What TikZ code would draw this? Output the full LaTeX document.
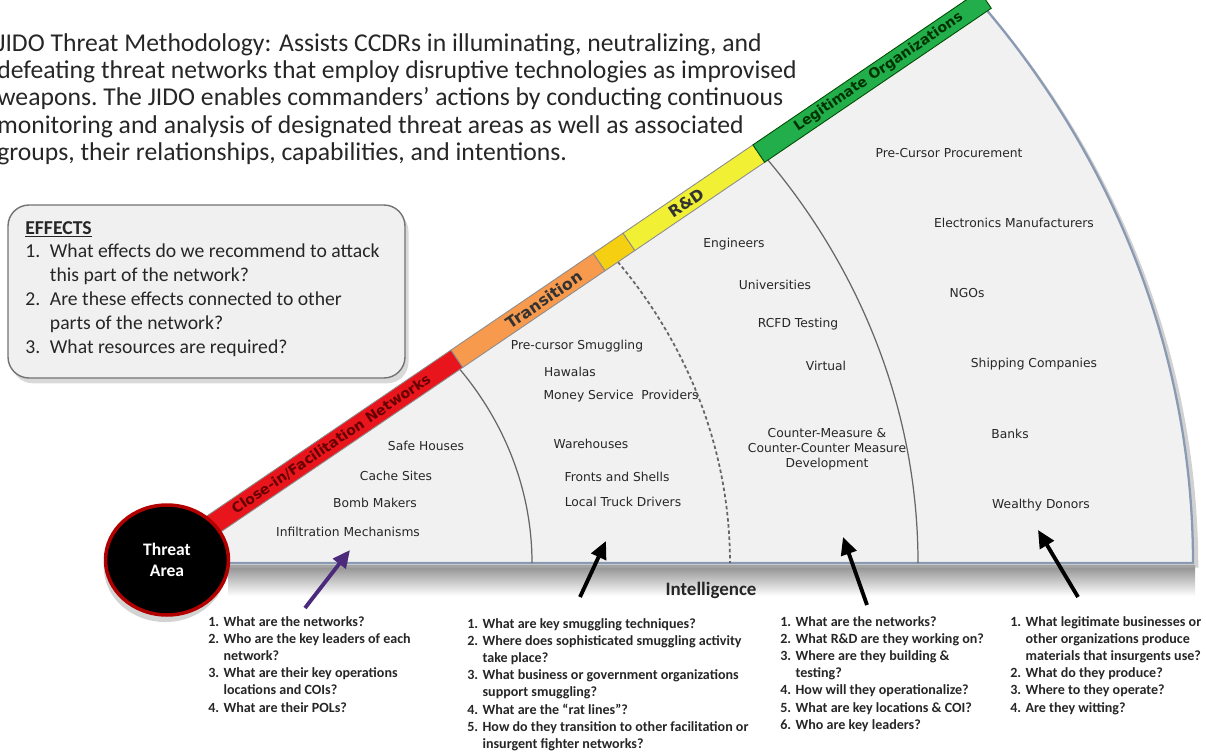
\documentclass[tikz,border=0pt]{standalone}
\usepackage{fontspec}
\setmainfont{Carlito}
\newfontfamily\comicfont{DejaVu Sans}
\usetikzlibrary{arrows.meta,shapes.geometric,shadows}

\definecolor{barred}{HTML}{E8161C}
\definecolor{barorange}{HTML}{F79A4E}
\definecolor{bargold}{HTML}{F4CF12}
\definecolor{baryellow}{HTML}{F2F034}
\definecolor{bargreen}{HTML}{22AE4A}
\definecolor{fanfill}{HTML}{F1F1F1}
\definecolor{fanedge}{HTML}{8A9AB2}
\definecolor{arrowpurple}{HTML}{4B2A7B}

\begin{document}
\begin{tikzpicture}[x=0.02cm, y=0.02cm,
                    item node/.style={font=\comicfont\fontsize{7}{8.6}\selectfont, text=black!85, inner sep=0pt},
                    list node/.style={anchor=north west, inner sep=0pt, text=black!85,
                                      font=\bfseries\fontsize{8}{9.75}\selectfont},
                    bar label/.style={font=\comicfont\bfseries\fontsize{8}{8}\selectfont, rotate=34.2, inner sep=0pt},
                    bar seg/.style={draw=black!45, line width=0.5pt},
                    q arrow/.style={line width=2.2pt, -{Triangle[length=10pt, width=9pt]}},
                    threat node/.style={ellipse, fill=black, draw=red!70!black, line width=2pt,
                                        minimum width=2.46cm, minimum height=2.2cm, text=white, align=center,
                                        font=\bfseries\fontsize{10}{12}\selectfont,
                                        drop shadow={shadow xshift=-1pt, shadow yshift=-4pt, opacity=0.35}}]

  \useasboundingbox (0,0) rectangle (1206,-753);

  % header
  \node[anchor=north west, inner sep=0pt, align=left, text=black!85,
        font=\fontsize{14.6}{15.6}\selectfont] (intro) at (-3,-33)
       {JIDO Threat Methodology: Assists CCDRs in illuminating, neutralizing, and\\
        defeating threat networks that employ disruptive technologies as improvised\\
        weapons.\ The JIDO enables commanders’ actions by conducting continuous\\
        monitoring and analysis of designated threat areas as well as associated\\
        groups, their relationships, capabilities, and intentions.};

  % effects box
  \draw[fill=black!6, draw=black!55, rounded corners=12pt, line width=0.8pt,
        drop shadow={shadow xshift=2pt, shadow yshift=-3pt, opacity=0.3}] (8,-205) rectangle (405,-378);
  \node[anchor=north west, inner sep=0pt, text=black!85, font=\fontsize{11.2}{13.6}\selectfont] (effects) at (25,-217)
       {\begin{tabular}{@{}p{14pt}@{}l@{}}
          \multicolumn{2}{@{}l}{\textbf{\underline{EFFECTS}}}\\
          1. & What effects do we recommend to attack\\
             & this part of the network?\\
          2. & Are these effects connected to other\\
             & parts of the network?\\
          3. & What resources are required?
        \end{tabular}};

  % fan
  \shade[top color=black!45, bottom color=white] (228,-565) rectangle (1195,-596);
  \begin{scope}[shift={(175,-563)}, yscale=0.9]
    \fill[black!30, opacity=0.6, xshift=3pt, yshift=-3pt]
      (0,0) -- (37.06:1018) arc[start angle=37.06, end angle=0, radius=1018] -- cycle;
    \fill[fanfill] (0,0) -- (37.06:1018) arc[start angle=37.06, end angle=0, radius=1018] -- cycle;
    \draw[fanedge, line width=1.3pt] (37.06:1018) arc[start angle=37.06, end angle=0, radius=1018] -- (50,0);
    \draw[black!60, line width=0.7pt] (37.06:357) arc[start angle=37.06, end angle=0, radius=357];
    \draw[black!60, line width=1pt, dash pattern=on 2pt off 1.5pt] (37.06:555) arc[start angle=37.06, end angle=0, radius=555];
    \draw[black!60, line width=0.7pt] (37.06:743) arc[start angle=37.06, end angle=0, radius=743];
  \end{scope}

  % bar
  \begin{scope}[shift={(175,-563)}, rotate=34.2]
    \filldraw[bar seg, fill=barred] (30,0) rectangle (348,21);
    \filldraw[bar seg, fill=barorange] (348,0) rectangle (520,21);
    \filldraw[bar seg, fill=bargold] (520,0) rectangle (556,21);
    \filldraw[bar seg, fill=baryellow] (556,0) rectangle (713,21);
    \filldraw[bar seg, fill=bargreen, draw=green!30!black] (713,0) rectangle (987,21);
    \node[bar label, text=red!40!black] (closein) at (196,10.5) {Close-in/Facilitation Networks};
    \node[bar label, text=black!80, font=\comicfont\bfseries\fontsize{9}{9}\selectfont] (transition) at (453,10.5) {Transition};
    \node[bar label, text=black!80, font=\comicfont\bfseries\fontsize{9}{9}\selectfont] (rnd) at (625,10.5) {R\&D};
    \node[bar label, text=green!20!black] (legit) at (858,10.5) {Legitimate Organizations};
  \end{scope}

  \node[threat node] (threat) at (167,-560) {Threat\\Area};

  % close-in
  \node[item node] (safe) at (426,-446) {Safe Houses};
  \node[item node] (cache) at (396,-476) {Cache Sites};
  \node[item node] (bomb) at (375,-503) {Bomb Makers};
  \node[item node] (infil) at (348,-532) {Infiltration Mechanisms};
  % transition
  \node[item node] (precursor) at (577,-346) {Pre-cursor Smuggling};
  \node[item node] (hawalas) at (570,-372) {Hawalas};
  \node[item node] (money) at (621,-396) {Money Service\ \ Providers};
  \node[item node] (ware) at (591,-444) {Warehouses};
  \node[item node] (fronts) at (617,-477) {Fronts and Shells};
  \node[item node] (truck) at (623,-502) {Local Truck Drivers};
  % r&d
  \node[item node] (eng) at (734,-244) {Engineers};
  \node[item node] (univ) at (775,-285) {Universities};
  \node[item node] (rcfd) at (798,-324) {RCFD Testing};
  \node[item node] (virtual) at (826,-366) {Virtual};
  \node[item node, align=center] (counter) at (827,-449) {Counter-Measure \&\\Counter-Counter Measure\\Development};
  % legitimate
  \node[item node] (procure) at (949,-153) {Pre-Cursor Procurement};
  \node[item node] (elec) at (1014,-223) {Electronics Manufacturers};
  \node[item node] (ngo) at (967,-293) {NGOs};
  \node[item node] (ship) at (1034,-364) {Shipping Companies};
  \node[item node] (banks) at (1010,-434) {Banks};
  \node[item node] (donors) at (1041,-505) {Wealthy Donors};

  \node[font=\bfseries\fontsize{10.8}{12}\selectfont, text=black!85] (intel) at (711,-590) {Intelligence};

  % questions
  \node[list node] (q1) at (208,-614)
       {\begin{tabular}{@{}l@{\hspace{2.5pt}}l@{}}
          1. & What are the networks?\\
          2. & Who are the key leaders of each\\
             & network?\\
          3. & What are their key operations\\
             & locations and COIs?\\
          4. & What are their POLs?
        \end{tabular}};
  \node[list node] (q2) at (467,-616)
       {\begin{tabular}{@{}l@{\hspace{2.5pt}}l@{}}
          1. & What are key smuggling techniques?\\
          2. & Where does sophisticated smuggling activity\\
             & take place?\\
          3. & What business or government organizations\\
             & support smuggling?\\
          4. & What are the “rat lines”?\\
          5. & How do they transition to other facilitation or\\
             & insurgent fighter networks?
        \end{tabular}};
  \node[list node] (q3) at (780,-614)
       {\begin{tabular}{@{}l@{\hspace{2.5pt}}l@{}}
          1. & What are the networks?\\
          2. & What R\&D are they working on?\\
          3. & Where are they building \&\\
             & testing?\\
          4. & How will they operationalize?\\
          5. & What are key locations \& COI?\\
          6. & Who are key leaders?
        \end{tabular}};
  \node[list node] (q4) at (1010,-614)
       {\begin{tabular}{@{}l@{\hspace{2.5pt}}l@{}}
          1. & What legitimate businesses or\\
             & other organizations produce\\
             & materials that insurgents use?\\
          2. & What do they produce?\\
          3. & Where to they operate?\\
          4. & Are they witting?
        \end{tabular}};

  \coordinate (t1) at (305,-608);
  \coordinate (h1) at (350,-550);
  \coordinate (t2) at (580,-597);
  \coordinate (h2) at (606,-541);
  \coordinate (t3) at (867,-605);
  \coordinate (h3) at (843,-537);
  \coordinate (t4) at (1078,-597);
  \coordinate (h4) at (1038,-530);

  \path (t1) edge[q arrow, arrowpurple] (h1)
        (t2) edge[q arrow] (h2)
        (t3) edge[q arrow] (h3)
        (t4) edge[q arrow] (h4);

\end{tikzpicture}
\end{document}
